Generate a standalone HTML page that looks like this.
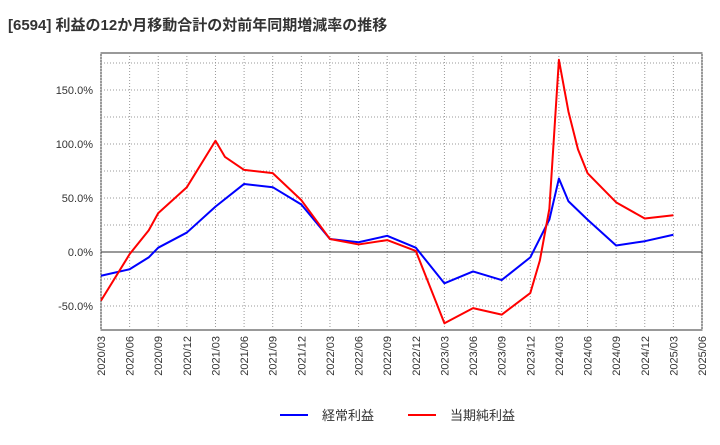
<!DOCTYPE html>
<html><head><meta charset="utf-8"><style>
body{margin:0;background:#fff;font-family:"Liberation Sans","Noto Sans CJK JP",sans-serif;}
svg text{font-family:"Liberation Sans","Noto Sans CJK JP",sans-serif;}
</style></head><body>
<svg id="c" width="720" height="440" xmlns="http://www.w3.org/2000/svg">
<text x="8" y="30" font-size="15" font-weight="bold" fill="#333">[6594]  利益の12か月移動合計の対前年同期増減率の推移</text>
<rect x="101" y="53" width="601" height="277" fill="none" stroke="#333" stroke-width="1"/>
<g id="grid"></g><g id="ticks"></g><g id="series"></g>
<g>
<line x1="280" y1="415" x2="308" y2="415" stroke="#0000ff" stroke-width="2"/>
<text x="322" y="420" font-size="13" fill="#333">経常利益</text>
<line x1="408" y1="415" x2="436" y2="415" stroke="#ff0000" stroke-width="2"/>
<text x="450" y="420" font-size="13" fill="#333">当期純利益</text>
</g>
</svg>
<script>
const xLabels=["2020/03","2020/06","2020/09","2020/12","2021/03","2021/06","2021/09","2021/12","2022/03","2022/06","2022/09","2022/12","2023/03","2023/06","2023/09","2023/12","2024/03","2024/06","2024/09","2024/12","2025/03","2025/06"];
const yTicks=[-50,0,50,100,150];
const ordinaryDates=["2020/03","2020/06","2020/08","2020/09","2020/12","2021/03","2021/06","2021/09","2021/12","2022/03","2022/06","2022/09","2022/12","2023/03","2023/06","2023/09","2023/12","2024/02","2024/03","2024/04","2024/06","2024/09","2024/12","2025/03"];
const ordinaryValues=[-22,-16,-5,4,18,42,63,60,44,12,9,15,4,-29,-18,-26,-5,30,68,47,30,6,10,16];
const netDates=["2020/03","2020/06","2020/08","2020/09","2020/12","2021/03","2021/04","2021/06","2021/09","2021/12","2022/03","2022/06","2022/09","2022/12","2023/03","2023/06","2023/09","2023/12","2024/01","2024/02","2024/03","2024/04","2024/05","2024/06","2024/09","2024/12","2025/03"];
const netValues=[-45,-2,20,36,60,103,88,76,73,48,12,7,11,1,-66,-52,-58,-38,-8,40,178,130,95,73,46,31,34];
const NS="http://www.w3.org/2000/svg";
const L=101,R=702,T=53,B=330;
function mIdx(s){const [y,m]=s.split("/").map(Number);return (y-2020)*12+(m-3);}
const xMax=mIdx("2025/06");
const xs=s=>L+(R-L)*mIdx(s)/xMax;
const ys=v=>252-v*54/50;
function mk(tag,attrs,parent){const e=document.createElementNS(NS,tag);for(const k in attrs)e.setAttribute(k,attrs[k]);parent.appendChild(e);return e;}
const grid=document.getElementById("grid"),ticks=document.getElementById("ticks"),ser=document.getElementById("series");
xLabels.forEach(l=>{const x=xs(l);
 const g=mk("line",{x1:x,x2:x,y1:T,y2:B,stroke:"#999","stroke-dasharray":"1,2","stroke-width":1},grid);
 
 
 const t=mk("text",{x:0,y:0,"font-size":11,fill:"#333","text-anchor":"end",transform:`translate(${x+4},${B+6}) rotate(-90)`},ticks);
 t.textContent=l;
 
 
});
for(let v=-50;v<=175;v+=25){const y=ys(v);if(y<T||y>B)continue;
 const g=mk("line",{x1:L,x2:R,y1:y,y2:y,stroke:v===0?"#333":"#999","stroke-dasharray":v===0?"none":"1,2","stroke-width":1},grid);
 
 
}
yTicks.forEach(v=>{const t=mk("text",{x:L-8,y:ys(v)+4,"font-size":11,fill:"#333","text-anchor":"end"},ticks);
 t.textContent=v.toFixed(1)+"%";
 
 
});
function line(d,v,c,name){const p=mk("polyline",{points:d.map((s,i)=>xs(s)+","+ys(v[i])).join(" "),fill:"none",stroke:c,"stroke-width":2,"stroke-linejoin":"round"},ser);
 
 }
line(ordinaryDates,ordinaryValues,"#0000ff","ordinary-profit-line");
line(netDates,netValues,"#ff0000","net-profit-line");
</script>
</body></html>
